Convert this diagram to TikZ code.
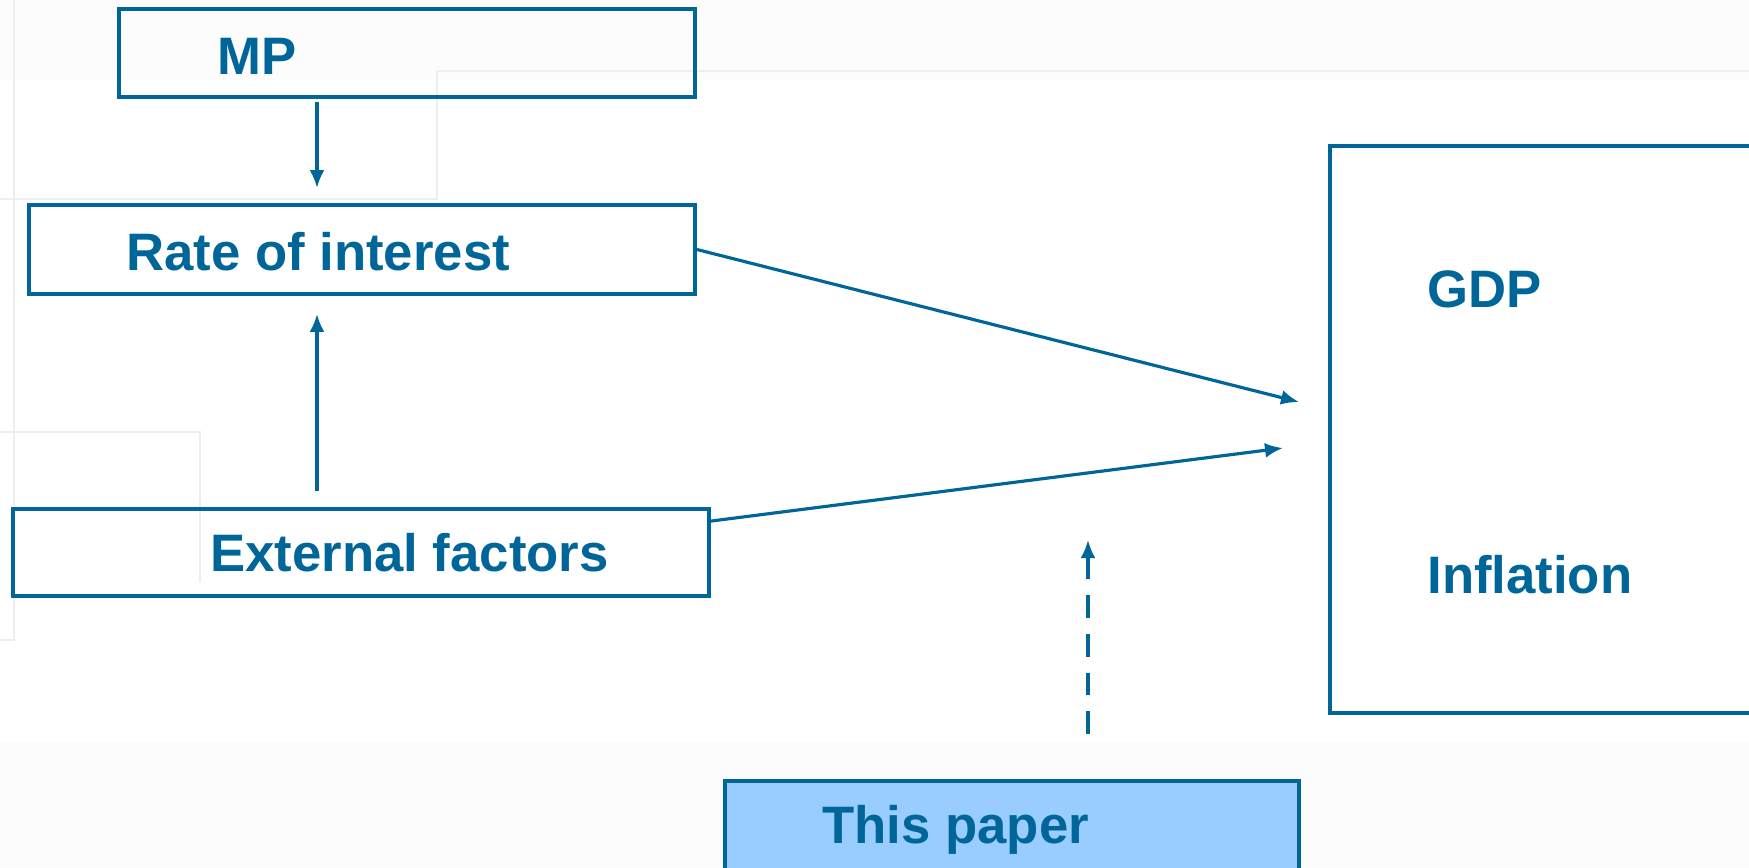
\documentclass[tikz,border=0pt]{standalone}
\usepackage{fontspec}
\setmainfont{Liberation Sans}
\usetikzlibrary{arrows.meta,fit}
\definecolor{boxblue}{RGB}{0,102,153}
\definecolor{paperfill}{RGB}{153,204,255}
\definecolor{faint}{RGB}{238,238,238}

\begin{document}
\begin{tikzpicture}[x=0.02cm, y=-0.02cm,
    box/.style={draw=boxblue, line width=2.2pt, inner sep=0pt},
    lbl/.style={anchor=base west, text=boxblue, inner sep=0pt,
        font=\fontsize{30}{36}\selectfont\bfseries},
    link/.style={draw=boxblue, line width=1.8pt, -{Latex[length=3.6mm, width=3mm]}}]
    \useasboundingbox (0,0) rectangle (1749,867);
    \clip (0,0) rectangle (1749,867);

    % Background
    \fill[white] (0,0) rectangle (1749,867);
    \fill[gray!2] (0,0) rectangle (1749,80);
    \fill[gray!2] (0,742) rectangle (1749,867);
    \draw[faint, line width=1.5pt] (1749,71) -- (437,71) -- (437,199) -- (0,199);
    \draw[faint, line width=1.5pt] (14,0) -- (14,640) -- (0,640);
    \draw[faint, line width=1.5pt] (0,432) -- (200,432) -- (200,582);

    % Boxes
    \node[box, fit={(119,9) (695,97)}] (mp) {};
    \node[box, fit={(29,205) (695,294)}] (rate) {};
    \node[box, fit={(13,509) (709,596)}] (ext) {};
    \node[box, fit={(1330,146) (1790,713)}] (out) {};
    \node[box, fill=paperfill, fit={(725,781) (1299,900)}] (paper) {};

    % Labels
    \node[lbl] (mptext) at (217,74) {MP};
    \node[lbl] (ratetext) at (126,270) {Rate of interest};
    \node[lbl] (exttext) at (210,571) {External factors};
    \node[lbl] (gdp) at (1427,307) {GDP};
    \node[lbl] (infl) at (1427,593) {Inflation};
    \node[lbl] (papertext) at (822,843) {This paper};

    % Arrows
    \coordinate (col) at (317,0);
    \coordinate (hitA) at (1299,402);
    \coordinate (hitB) at (1283,448);
    \coordinate (hitC) at (1088,540);
    \draw[link, shorten <=0.06cm, shorten >=0.3cm] (col |- mp.south) -- (col |- rate.north);
    \draw[link, shorten <=0.32cm, shorten >=0.36cm] (col |- ext.north) -- (col |- rate.south);
    \draw[link] (rate.east) -- (hitA);
    \draw[link] ([yshift=-0.28cm]ext.north east) -- (hitB);
    \draw[link, dash pattern=on 13pt off 9pt, shorten <=0.9cm] (hitC |- paper.north) -- (hitC);
\end{tikzpicture}
\end{document}
